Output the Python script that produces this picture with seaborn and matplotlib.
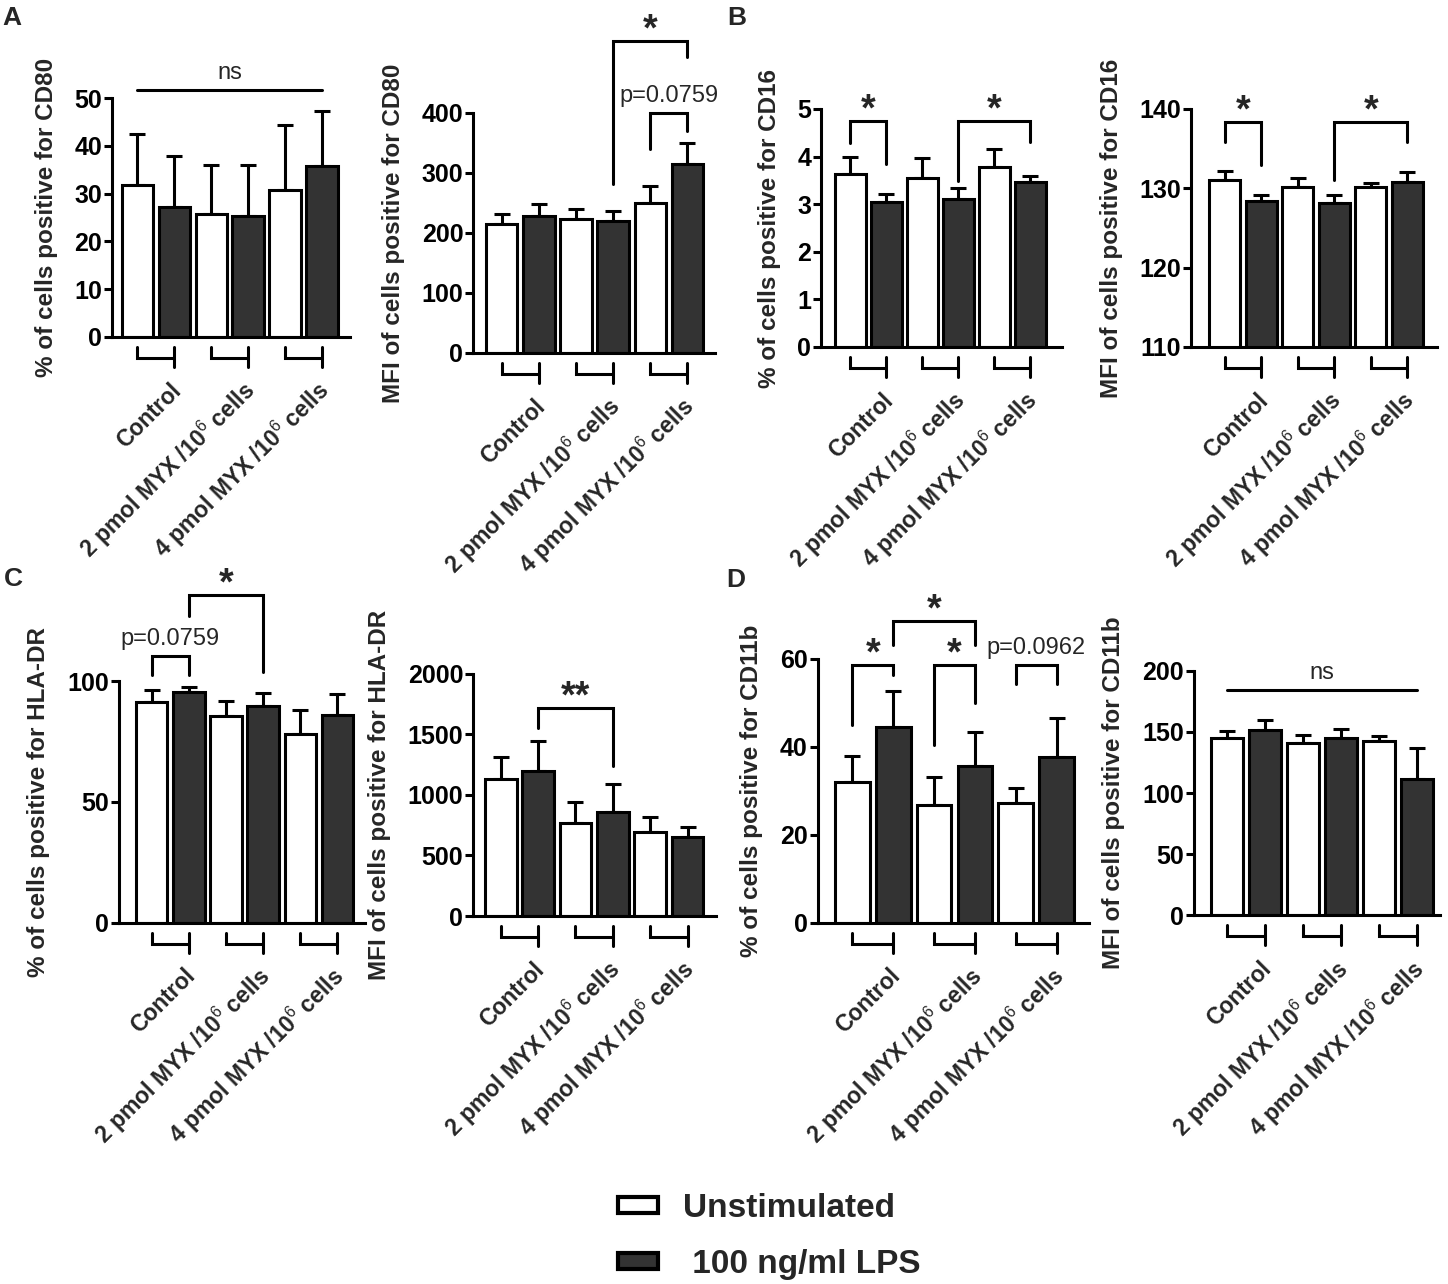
import matplotlib
matplotlib.use("Agg")
import matplotlib.pyplot as plt
from matplotlib.patches import Patch
import numpy as np
import pandas as pd
import seaborn as sns

# --------------------------------
# Data
# --------------------------------
GROUPS = ["Control", "2 pmol MYX /10$^6$ cells", "4 pmol MYX /10$^6$ cells"]
CONDITIONS = ["Unstimulated", " 100 ng/ml LPS"]

# A - CD80
CD80_PCT_UNSTIM = [31.9, 25.8, 30.8]
CD80_PCT_UNSTIM_SD = [10.5, 10.2, 13.6]
CD80_PCT_LPS = [27.2, 25.4, 35.8]
CD80_PCT_LPS_SD = [10.7, 10.5, 11.4]

CD80_MFI_UNSTIM = [215.5, 223, 250]
CD80_MFI_UNSTIM_SD = [16.5, 16, 28]
CD80_MFI_LPS = [228, 220, 314]
CD80_MFI_LPS_SD = [20, 16.5, 35]

# B - CD16
CD16_PCT_UNSTIM = [3.63, 3.54, 3.78]
CD16_PCT_UNSTIM_SD = [0.37, 0.43, 0.37]
CD16_PCT_LPS = [3.05, 3.11, 3.46]
CD16_PCT_LPS_SD = [0.17, 0.22, 0.14]

CD16_MFI_UNSTIM = [131.1, 130.2, 130.2]
CD16_MFI_UNSTIM_SD = [1.1, 1.1, 0.5]
CD16_MFI_LPS = [128.4, 128.2, 130.8]
CD16_MFI_LPS_SD = [0.8, 0.9, 1.2]

# C - HLA-DR
HLADR_PCT_UNSTIM = [91.6, 85.8, 78.2]
HLADR_PCT_UNSTIM_SD = [5.0, 6.1, 9.9]
HLADR_PCT_LPS = [95.6, 89.6, 86.1]
HLADR_PCT_LPS_SD = [2.2, 5.7, 8.7]

HLADR_MFI_UNSTIM = [1128, 766, 692]
HLADR_MFI_UNSTIM_SD = [180, 177, 124]
HLADR_MFI_LPS = [1193, 860, 651]
HLADR_MFI_LPS_SD = [247, 230, 82]

# D - CD11b
CD11B_PCT_UNSTIM = [32.0, 26.8, 27.3]
CD11B_PCT_UNSTIM_SD = [6.0, 6.3, 3.4]
CD11B_PCT_LPS = [44.5, 35.6, 37.7]
CD11B_PCT_LPS_SD = [8.2, 7.8, 8.9]

CD11B_MFI_UNSTIM = [145.4, 141, 142.2]
CD11B_MFI_UNSTIM_SD = [5.6, 6.4, 4.7]
CD11B_MFI_LPS = [151.8, 145.1, 111.8]
CD11B_MFI_LPS_SD = [8.2, 7.6, 25.4]

# significance brackets: (bar a, bar b, top, left end, right end, label)
# bars: 0/1 Control, 2/3 2 pmol, 4/5 4 pmol (unstim / LPS)
CD80_PCT_SIG = [(0, 5, 51.6, 51.6, 51.6, "ns")]
CD80_MFI_SIG = [(3, 5, 519, 282, 492, "*"), (4, 5, 400, 339, 369, "p=0.0759")]
CD16_PCT_SIG = [(0, 1, 4.74, 4.29, 3.84, "*"), (3, 5, 4.74, 3.48, 4.30, "*")]
CD16_MFI_SIG = [(0, 1, 138.4, 135.8, 133.0, "*"), (3, 5, 138.4, 131.0, 135.8, "*")]
HLADR_PCT_SIG = [(0, 1, 110.4, 102.7, 102.7, "p=0.0759"), (1, 3, 135.9, 127, 103.7, "*")]
HLADR_MFI_SIG = [(1, 3, 1714, 1552, 1237, "**")]
CD11B_PCT_SIG = [(0, 1, 58.6, 45.0, 56.4, "*"), (1, 3, 68.6, 63.3, 63.3, "*"),
                 (2, 3, 58.6, 40.5, 49.9, "*"), (4, 5, 58.6, 54.2, 54.2, "p=0.0962")]
CD11B_MFI_SIG = [(0, 5, 184, 184, 184, "ns")]

# --------------------------------
# Style
# --------------------------------
W, H = 1448, 1284
DARK = "#333333"
LW = 2.2

sns.set_theme(style="ticks")
plt.rcParams["font.family"] = ["Liberation Sans", "DejaVu Sans"]
plt.rcParams["mathtext.fontset"] = "custom"
plt.rcParams["mathtext.rm"] = "Liberation Sans"
plt.rcParams["axes.linewidth"] = LW

# layout: pixel box of each axes (x0, x1, y top, y bottom) and x limits
PANELS = [
    ("% of cells positive for CD80", CD80_PCT_UNSTIM, CD80_PCT_UNSTIM_SD, CD80_PCT_LPS, CD80_PCT_LPS_SD,
     (0, 50), np.arange(0, 51, 10), CD80_PCT_SIG, (112, 350, 98, 337), (-0.69, 5.76)),
    ("MFI of cells positive for CD80", CD80_MFI_UNSTIM, CD80_MFI_UNSTIM_SD, CD80_MFI_LPS, CD80_MFI_LPS_SD,
     (0, 400), np.arange(0, 401, 100), CD80_MFI_SIG, (473, 715, 112.7, 353), (-0.77, 5.74)),
    ("% of cells positive for CD16", CD16_PCT_UNSTIM, CD16_PCT_UNSTIM_SD, CD16_PCT_LPS, CD16_PCT_LPS_SD,
     (0, 5), np.arange(0, 6, 1), CD16_PCT_SIG, (821, 1062, 109, 347), (-0.82, 5.88)),
    ("MFI of cells positive for CD16", CD16_MFI_UNSTIM, CD16_MFI_UNSTIM_SD, CD16_MFI_LPS, CD16_MFI_LPS_SD,
     (110, 140), np.arange(110, 141, 10), CD16_MFI_SIG, (1191, 1437, 109, 347), (-0.93, 5.82)),
    ("% of cells positive for HLA-DR", HLADR_PCT_UNSTIM, HLADR_PCT_UNSTIM_SD, HLADR_PCT_LPS, HLADR_PCT_LPS_SD,
     (0, 100), np.arange(0, 101, 50), HLADR_PCT_SIG, (118.5, 365, 681.4, 922.5), (-0.89, 5.74)),
    ("MFI of cells positive for HLA-DR", HLADR_MFI_UNSTIM, HLADR_MFI_UNSTIM_SD, HLADR_MFI_LPS, HLADR_MFI_LPS_SD,
     (0, 2000), np.arange(0, 2001, 500), HLADR_MFI_SIG, (473, 716, 673.6, 916), (-0.74, 5.76)),
    ("% of cells positive for CD11b", CD11B_PCT_UNSTIM, CD11B_PCT_UNSTIM_SD, CD11B_PCT_LPS, CD11B_PCT_LPS_SD,
     (0, 60), np.arange(0, 61, 20), CD11B_PCT_SIG, (817.5, 1089, 659, 922.5), (-0.85, 5.79)),
    ("MFI of cells positive for CD11b", CD11B_MFI_UNSTIM, CD11B_MFI_UNSTIM_SD, CD11B_MFI_LPS, CD11B_MFI_LPS_SD,
     (0, 200), np.arange(0, 201, 50), CD11B_MFI_SIG, (1193.5, 1440, 670.7, 915.4), (-0.88, 5.6)),
]


def draw_panel(fig, spec):
    ylabel, un, un_sd, lps, lps_sd, ylim, yticks, sig, box, xlim = spec
    x0, x1, yt, yb = box
    ax = fig.add_axes([x0 / W, 1 - yb / H, (x1 - x0) / W, (yb - yt) / H])
    h_px = yb - yt

    means = np.ravel(np.column_stack([un, lps]))
    sds = np.ravel(np.column_stack([un_sd, lps_sd]))
    df = pd.DataFrame({
        "pos": np.arange(6),
        "value": means,
        "condition": CONDITIONS * 3,
    })

    ax.errorbar(df["pos"], df["value"], yerr=[np.zeros(6), sds], fmt="none",
                ecolor="black", elinewidth=LW, capsize=5.5, capthick=LW, zorder=0.9)
    sns.barplot(data=df, x="pos", y="value", hue="condition", hue_order=CONDITIONS,
                palette=["white", DARK], dodge=False, native_scale=True, width=0.85,
                edgecolor="black", linewidth=LW, errorbar=None, legend=False, ax=ax)

    ax.set_xlim(*xlim)
    ax.set_ylim(*ylim)
    ax.set_yticks(yticks)
    ax.set_yticklabels([str(t) for t in yticks], fontsize=18, fontweight="bold")
    ax.tick_params(axis="y", length=6, width=LW, pad=1, colors="black")
    ax.set_ylabel(ylabel, fontsize=17.5, fontweight="bold", labelpad=12)
    ax.set_xlabel("")
    sns.despine(ax=ax)
    for s in ["left", "bottom"]:
        ax.spines[s].set_color("black")
        ax.spines[s].set_linewidth(LW)

    # group labels
    ax.set_xticks([1.08, 3.08, 5.08])
    ax.set_xticklabels(GROUPS, fontsize=16.5, fontweight="bold")
    ax.tick_params(axis="x", length=0, pad=36)
    for lbl in ax.get_xticklabels():
        lbl.set_rotation(45)
        lbl.set_ha("right")
        lbl.set_va("center")
        lbl.set_rotation_mode("anchor")

    # group brackets under the axis
    tr = ax.get_xaxis_transform()
    for g in range(3):
        xw, xd = 2 * g, 2 * g + 1
        ax.plot([xw, xw, xd], [-10 / h_px, -21 / h_px, -21 / h_px], color="black",
                lw=LW, transform=tr, clip_on=False, solid_joinstyle="miter")
        ax.plot([xd, xd], [-10 / h_px, -30 / h_px], color="black",
                lw=LW, transform=tr, clip_on=False)

    # significance
    for a, b, top, le, re, label in sig:
        ax.plot([a, a, b, b], [le, top, top, re], color="black", lw=LW,
                clip_on=False, solid_joinstyle="miter")
        xm = (a + b) / 2
        if "*" in label:
            ax.annotate(label, xy=(xm, top), xytext=(0, 0.5), textcoords="offset points",
                        ha="center", va="baseline", fontsize=27, fontweight="bold",
                        annotation_clip=False)
        else:
            ax.annotate(label, xy=(xm, top), xytext=(0, 8), textcoords="offset points",
                        ha="center", va="baseline", fontsize=17,
                        annotation_clip=False)
    return ax


def main():
    fig = plt.figure(figsize=(W / 100, H / 100), dpi=100)

    for spec in PANELS:
        draw_panel(fig, spec)

    for letter, (px, py) in zip("ABCD", [(2, 6), (727, 6), (4, 567), (726, 568)]):
        fig.text(px / W, 1 - py / H, letter, fontsize=19, fontweight="bold",
                 ha="left", va="top")

    handles = [Patch(facecolor="white", edgecolor="black", linewidth=3),
               Patch(facecolor=DARK, edgecolor="black", linewidth=3)]
    fig.legend(handles, CONDITIONS, loc="upper left",
               bbox_to_anchor=(618 / W, 1 - 1193 / H), frameon=False,
               prop={"size": 24, "weight": "bold"}, handlelength=1.2,
               handleheight=0.32, handletextpad=0.75, labelspacing=0.75,
               borderpad=0, borderaxespad=0)

    fig.savefig("out.png", dpi=100)
    plt.close(fig)


if __name__ == "__main__":
    main()
